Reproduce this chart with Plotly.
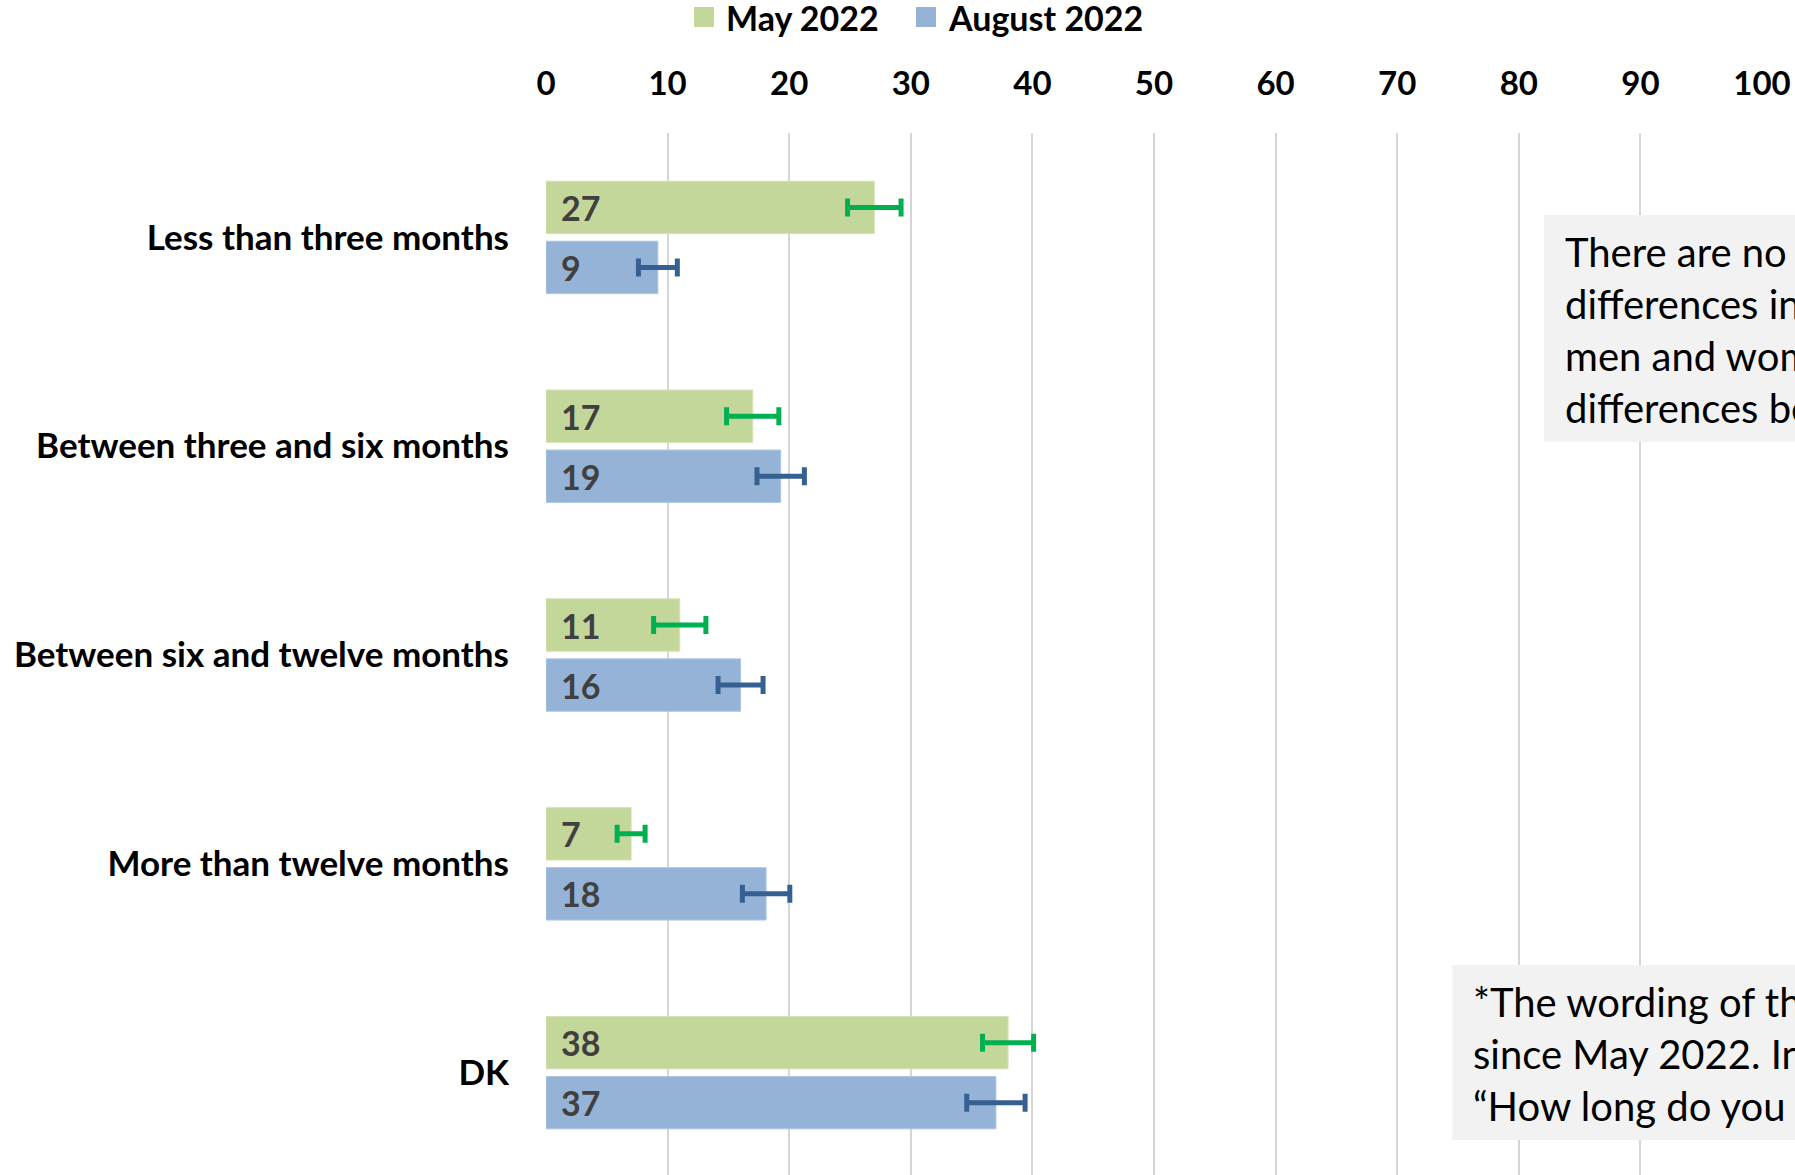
import plotly.graph_objects as go

# ---------------- data ----------------
categories = ["Less than three months", "Between three and six months",
              "Between six and twelve months", "More than twelve months", "DK"]
series_names = ["May 2022", "August 2022"]
may_values = [27.0, 17.0, 11.0, 7.0, 38.0]
may_errors = [2.2, 2.15, 2.15, 1.15, 2.1]
may_labels = ["27", "17", "11", "7", "38"]
aug_values = [9.2, 19.3, 16.0, 18.1, 37.0]
aug_errors = [1.6, 1.95, 1.85, 1.95, 2.4]
aug_labels = ["9", "19", "16", "18", "37"]
x_ticks = [0, 10, 20, 30, 40, 50, 60, 70, 80, 90, 100]
note_top = ["There are no significant",
            "differences in the responses of",
            "men and women, and no",
            "differences between age groups."]
note_bottom = ["*The wording of the question has changed",
               "since May 2022. In May 2022 the question was:",
               "“How long do you expect the war to last?”"]

# ---------------- style ----------------
W, H = 1795, 1175
ML, MR, MT, MB = 546, 33, 133, 0
PW, PH = W - ML - MR, H - MT - MB
MAY_FILL, AUG_FILL = "#c4d79b", "#95b3d7"
MAY_ERR, AUG_ERR = "#00b050", "#376092"
FONT = "Lato"
BARGAP, BARGROUPGAP = 0.4253, 0.127


def px_x(p):
    return (p - ML) / PW


def px_y(p):
    return (H - MB - p) / PH


fig = go.Figure()
fig.add_trace(go.Bar(
    y=categories, x=may_values, orientation="h", name=series_names[0],
    marker=dict(color=MAY_FILL, line=dict(color="#d3e2b4", width=1)),
    error_x=dict(type="data", array=may_errors, color=MAY_ERR, thickness=5, width=9),
    showlegend=False, hoverinfo="x+y"))
fig.add_trace(go.Bar(
    y=categories, x=aug_values, orientation="h", name=series_names[1],
    marker=dict(color=AUG_FILL, line=dict(color="#aec5e1", width=1)),
    error_x=dict(type="data", array=aug_errors, color=AUG_ERR, thickness=5, width=9),
    showlegend=False, hoverinfo="x+y"))

annotations = []
shapes = []

# legend (square swatches + labels)
legend_square_left = [694, 916]
for nm, col, sx in zip(series_names, [MAY_FILL, AUG_FILL], legend_square_left):
    shapes.append(dict(type="rect", xref="paper", yref="paper",
                       x0=px_x(sx), x1=px_x(sx + 20), y0=px_y(27), y1=px_y(7),
                       fillcolor=col, line=dict(width=0)))
    annotations.append(dict(
        x=px_x(sx + 30), y=px_y(17), xref="paper", yref="paper", text=nm,
        showarrow=False, xanchor="left", yanchor="middle",
        font=dict(family=FONT, size=34, color="#000000", weight="bold")))

# value labels at the base of each bar
slot = (1 - BARGAP) / 4
for i, (lm, la) in enumerate(zip(may_labels, aug_labels)):
    for lab, off in ((lm, -slot), (la, slot)):
        annotations.append(dict(
            x=0, y=i + off, xref="x", yref="y", text=lab, showarrow=False,
            xanchor="left", yanchor="middle", xshift=13,
            font=dict(family=FONT, size=34, color="#404040", weight="bold")))

# note boxes
shapes += [
    dict(type="rect", xref="paper", yref="paper", x0=px_x(1544), x1=px_x(1900),
         y0=px_y(441.7), y1=px_y(215), fillcolor="#f2f2f2", line=dict(width=0), layer="above"),
    dict(type="rect", xref="paper", yref="paper", x0=px_x(1452.3), x1=px_x(1900),
         y0=px_y(1140), y1=px_y(965), fillcolor="#f2f2f2", line=dict(width=0), layer="above"),
]
annotations.append(dict(
    x=px_x(1563), y=px_y(330), xref="paper", yref="paper", text="<br>".join(note_top),
    showarrow=False, xanchor="left", yanchor="middle", align="left",
    font=dict(family=FONT, size=40, color="#000000")))
annotations.append(dict(
    x=px_x(1471), y=px_y(1054), xref="paper", yref="paper", text="<br>".join(note_bottom),
    showarrow=False, xanchor="left", yanchor="middle", align="left",
    font=dict(family=FONT, size=40, color="#000000")))

fig.update_layout(
    width=W, height=H,
    margin=dict(l=ML, r=MR, t=MT, b=MB, pad=0),
    paper_bgcolor="white", plot_bgcolor="white",
    barmode="group", bargap=BARGAP, bargroupgap=BARGROUPGAP,
    font=dict(family=FONT, color="#000000"),
    showlegend=False,
    xaxis=dict(range=[0, 100], side="top", tickmode="array", tickvals=x_ticks,
               ticktext=[str(t) for t in x_ticks], showgrid=True, gridcolor="#d6d6d6",
               gridwidth=2, zeroline=False, showline=False, ticks="",
               ticklabelstandoff=30,
               tickfont=dict(family=FONT, size=33, color="#000000", weight="bold")),
    yaxis=dict(type="category", categoryorder="array", categoryarray=categories,
               range=[4.49, -0.5], showgrid=False, zeroline=False, showline=False,
               ticks="", ticklabelstandoff=36,
               tickfont=dict(family=FONT, size=35, color="#000000", weight="bold")),
    annotations=annotations, shapes=shapes,
)

fig.write_html("out.html", config={"displayModeBar": False},
               post_script="document.body.style.margin='0px';document.body.style.overflow='hidden';")
